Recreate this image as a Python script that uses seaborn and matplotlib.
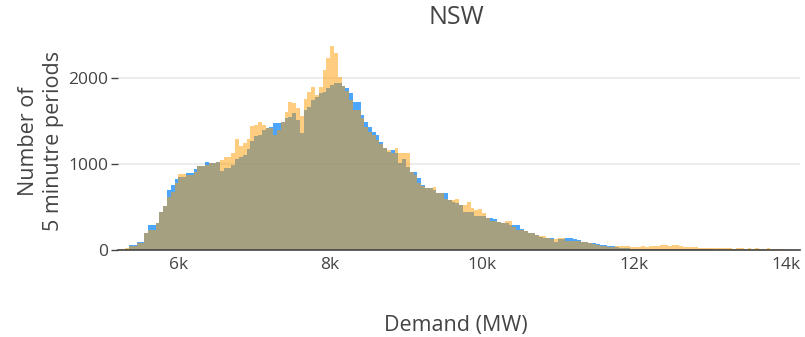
import numpy as np
import pandas as pd
import matplotlib
matplotlib.use("Agg")
import matplotlib.pyplot as plt
import seaborn as sns

# Histogram bins: 50 MW wide, starting at 5200 MW
bin_start = 5200
bin_width = 50

# Counts of 5-minute periods per demand bin (first series)
counts_a = [
    0, 3, 10, 58, 58, 89, 89, 194, 291, 291,
    310, 438, 512, 698, 756, 826, 853, 853, 899, 899,
    942, 980, 980, 1020, 1008, 1008, 1020, 922, 950, 950,
    988, 1055, 1085, 1105, 1171, 1270, 1326, 1337, 1395, 1415,
    1430, 1473, 1480, 1492, 1531, 1550, 1589, 1512, 1357, 1628,
    1667, 1744, 1783, 1822, 1840, 1880, 1919, 1938, 1938, 1911,
    1880, 1822, 1724, 1724, 1570, 1492, 1434, 1376, 1337, 1259,
    1182, 1140, 1163, 1124, 1008, 1055, 969, 911, 911, 841,
    756, 717, 717, 698, 666, 659, 659, 581, 562, 550,
    523, 445, 445, 445, 400, 400, 395, 376, 376, 360,
    329, 310, 310, 291, 291, 291, 240, 225, 201, 201,
    174, 150, 143, 136, 136, 97, 128, 128, 136, 136,
    125, 116, 97, 97, 85, 80, 70, 58, 55, 46,
    46, 31, 25, 19, 19, 15,
    15, 14, 16, 13, 15, 14, 12, 13, 12, 11,
    10, 9, 10, 8, 9, 8, 7, 8, 7, 6,
    6, 5, 6, 5, 5, 4, 5, 4, 4, 3,
    3, 3, 4, 3, 2, 3, 2, 2, 2, 1,
]

# Counts of 5-minute periods per demand bin (second series)
counts_b = [
    15, 15, 20, 46, 46, 78, 78, 194, 233, 233,
    310, 438, 512, 620, 678, 775, 884, 884, 870, 870,
    911, 980, 980, 988, 1008, 1008, 1020, 1047, 1085, 1085,
    1124, 1287, 1209, 1240, 1287, 1442, 1453, 1492, 1453, 1415,
    1415, 1337, 1400, 1492, 1608, 1725, 1706, 1647, 1560, 1752,
    1841, 1899, 1802, 1899, 2093, 2229, 2372, 2287, 2016, 1911,
    1850, 1750, 1628, 1628, 1531, 1434, 1376, 1337, 1279, 1230,
    1182, 1163, 1124, 1182, 1124, 1124, 1124, 911, 872, 775,
    740, 717, 717, 736, 666, 659, 593, 581, 581, 593,
    523, 523, 562, 484, 465, 473, 427, 376, 341, 341,
    329, 310, 341, 341, 271, 233, 233, 225, 201, 201,
    174, 163, 163, 136, 130, 124, 136, 136, 108, 108,
    108, 100, 97, 97, 80, 70, 60, 46, 46, 31,
    31, 46, 46, 46, 46, 40,
    40, 38, 42, 36, 45, 50, 48, 55, 60, 52,
    58, 62, 50, 35, 38, 30, 40, 25, 22, 20,
    22, 18, 20, 25, 18, 20, 16, 18, 22, 15,
    18, 15, 20, 14, 16, 18, 12, 15, 10, 8,
]

x_ticks = [6000, 8000, 10000, 12000, 14000]
x_tick_labels = ["6k", "8k", "10k", "12k", "14k"]
y_ticks = [0, 1000, 2000]
y_tick_labels = ["0", "1000", "2000"]

n_bins = len(counts_a)
bin_end = bin_start + bin_width * n_bins
centers = bin_start + bin_width * np.arange(n_bins) + bin_width / 2

df = pd.DataFrame({
    "demand": np.concatenate([centers, centers]),
    "count": np.concatenate([counts_a, counts_b]),
    "series": ["a"] * n_bins + ["b"] * n_bins,
})

sns.set_style("white")
plt.rcParams["font.family"] = ["Open Sans", "DejaVu Sans"]
text_color = "#444444"

fig = plt.figure(figsize=(8.05, 3.37), dpi=100)
ax = fig.add_axes([118 / 805, (337 - 250) / 337, (800 - 118) / 805, (250 - 35) / 337])

hist_kw = dict(x="demand", weights="count", binwidth=bin_width,
               binrange=(bin_start, bin_end), element="bars", linewidth=0, ax=ax)
sns.histplot(data=df[df.series == "a"], color=(0.0, 0.5, 1.0), alpha=0.7,
             zorder=2, **hist_kw)
sns.histplot(data=df[df.series == "b"], color=(1.0, 0.61, 0.0), alpha=0.5,
             zorder=3, **hist_kw)

ax.set_xlim(5205, 14190)
ax.set_ylim(0, 2500)
ax.set_xticks(x_ticks)
ax.set_xticklabels(x_tick_labels)
ax.set_yticks(y_ticks)
ax.set_yticklabels(y_tick_labels)
ax.grid(axis="y", color="#ebebeb", linewidth=1.3, zorder=0)
ax.set_axisbelow(True)

for side in ["top", "right", "left"]:
    ax.spines[side].set_visible(False)
ax.spines["bottom"].set_color("#444444")
ax.spines["bottom"].set_linewidth(1.2)
ax.spines["bottom"].set_zorder(5)

ax.tick_params(axis="x", length=0, pad=5, labelsize=12.5, colors=text_color)
ax.tick_params(axis="y", length=5, width=1, pad=2, labelsize=12.5,
               colors=text_color, left=True)

ax.set_xlabel("Demand (MW)", fontsize=15.5, color=text_color)
ax.xaxis.label.set_va("center")
ax.xaxis.set_label_coords((456 - 118) / 682, (250 - 325) / 215)

ax.set_ylabel("Number of\n5 minutre periods", fontsize=15.5, color=text_color,
              linespacing=1.2)
ax.yaxis.label.set_va("center")
ax.yaxis.set_label_coords((41 - 118) / 682, (250 - 141) / 215)

fig.text(456 / 805, 1 - 17.5 / 337, "NSW", ha="center", va="center",
         fontsize=18, color=text_color)

fig.savefig("out.png", dpi=100)
